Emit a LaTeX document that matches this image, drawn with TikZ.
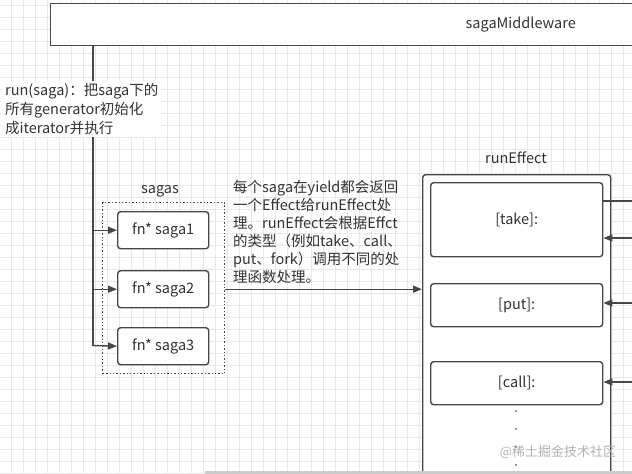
\documentclass[tikz,border=0pt]{standalone}
\usepackage{fontspec}
\setmainfont{Noto Sans CJK SC}
\usetikzlibrary{arrows.meta}
\definecolor{lnc}{HTML}{474747}
\definecolor{txc}{HTML}{333333}
\definecolor{gridc}{HTML}{E8E8E8}
\begin{document}
\begin{tikzpicture}[x=1pt,y=-1pt,
  font=\fontsize{14.5}{18}\selectfont, text=txc,
  box/.style={draw=lnc, line width=1.4pt, fill=white, inner sep=0pt},
  rbox/.style={box, rounded corners=3pt},
  conn/.style={draw=lnc, line width=1.4pt},
  arr/.style={conn, -{Triangle[length=9pt,width=7pt]}}]
\useasboundingbox (0,0) rectangle (632,474);
\clip (0,0) rectangle (632,474);
\fill[white] (0,0) rectangle (632,474);
\foreach \x in {11,23,...,631} \draw[gridc, line width=0.7pt] (\x,0) -- (\x,474);
\foreach \y in {5,17,...,473} \draw[gridc, line width=0.7pt] (0,\y) -- (632,\y);

% top box
\node[box, anchor=north west, minimum width=940pt, minimum height=42pt] (mw) at (50,3) {sagaMiddleware};

% sagas group
\node (sagaslbl) at (160,191) {sagas};
\node[draw=lnc, dotted, line width=1.4pt, anchor=north west, minimum width=122pt, minimum height=171pt, inner sep=0pt] (sagas) at (102,202) {};
\node[rbox, anchor=north west, minimum width=91pt, minimum height=37pt] (s1) at (117,211) {fn* saga1};
\node[rbox, anchor=north west, minimum width=91pt, minimum height=37pt] (s2) at (117,270) {fn* saga2};
\node[rbox, anchor=north west, minimum width=91pt, minimum height=37pt] (s3) at (117,327) {fn* saga3};

% runEffect
\node (relbl) at (516,158) {runEffect};
\node[rbox, anchor=north west, minimum width=188pt, minimum height=330pt] (re) at (422,174) {};
\node[rbox, anchor=north west, minimum width=172pt, minimum height=74pt] (take) at (430,182) {[take]:};
\node[rbox, anchor=north west, minimum width=172pt, minimum height=43pt] (put) at (430,283) {[put]:};
\node[rbox, anchor=north west, minimum width=172pt, minimum height=43pt] (call) at (430,361) {[call]:};
\foreach \y in {411,429,447,465} \fill[txc] (516,\y) circle (0.9pt);

% trunk and branches
\coordinate (trunk) at (93,345.5);
\draw[conn] (mw.south west -| trunk) -- (trunk);
\draw[arr] (trunk |- s1.west) -- (s1.west);
\draw[arr] (trunk |- s2.west) -- (s2.west);
\draw[arr] (trunk) -- (s3.west);

\node[anchor=north west, align=left, fill=white, inner xsep=3pt, inner ysep=2pt,
      font=\fontsize{14.5}{19}\selectfont] (runlbl) at (2,81)
  {run(saga)：把saga下的\\所有generator初始化\\成iterator并执行};

% description and arrow
\node[anchor=north west, align=left, inner sep=0pt] (desc) at (233,180)
  {每个saga在yield都会返回\\一个Effect给runEffect处\\理。runEffect会根据Effct\\的类型（例如take、call、\\put、fork）调用不同的处\\理函数处理。};
\draw[arr] (sagas.east |- s2.east) -- (re.west |- s2.east);

% right side connectors
\coordinate (o1) at (640,201);
\coordinate (i1) at (640,238);
\coordinate (i2) at (640,303);
\coordinate (i3) at (640,382);
\draw[conn] (take.east |- o1) -- (o1);
\draw[arr] (i1) -- (take.east |- i1);
\draw[arr] (i2) -- (put.east |- i2);
\draw[arr] (i3) -- (call.east |- i3);

% watermark and bottom bar
\node[text=gray!60, font=\fontsize{13}{15}\selectfont] (wm) at (558,452) {@稀土掘金技术社区};
\fill[gray!40] (205,471) rectangle (632,474);
\end{tikzpicture}
\end{document}
